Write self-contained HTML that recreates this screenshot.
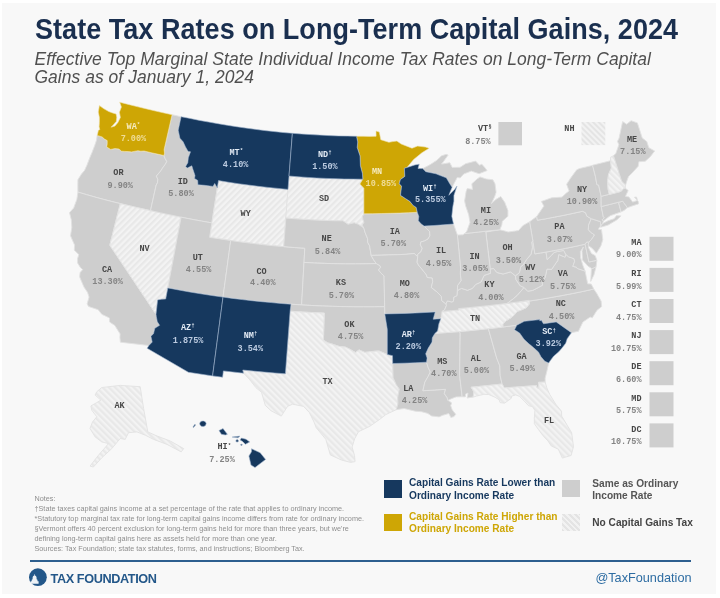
<!DOCTYPE html>
<html><head><meta charset="utf-8"><title>State Tax Rates on Long-Term Capital Gains, 2024</title>
<style>
html,body{margin:0;padding:0;background:#fff;}
body{width:720px;height:598px;position:relative;overflow:hidden;font-family:"Liberation Sans",sans-serif;}
#panel{position:absolute;left:2px;top:3px;width:714px;height:591px;background:#f8f8f8;}
h1{position:absolute;left:35px;top:14.6px;margin:0;font-size:27px;line-height:30px;font-weight:bold;color:#1a2f4f;white-space:nowrap;letter-spacing:0.04px;transform:scaleY(1.07);transform-origin:0 24.4px;}
#sub{position:absolute;left:34.5px;top:50.4px;margin:0;font-size:17.45px;line-height:18px;font-style:italic;color:#505050;white-space:nowrap;letter-spacing:0.05px;}
svg{position:absolute;left:0;top:0;}
.ab{font-family:"Liberation Mono",monospace;font-weight:bold;font-size:8.5px;text-anchor:middle;}
.val{font-family:"Liberation Mono",monospace;font-weight:bold;font-size:8.5px;text-anchor:middle;}
.r{text-anchor:end;}
.mk{font-family:"Liberation Mono",monospace;font-weight:bold;font-size:5px;text-anchor:start;}
#notes{position:absolute;left:34.5px;top:493.5px;font-size:7.25px;line-height:10px;color:#8e8e8e;white-space:nowrap;}
.lg{position:absolute;font-size:10.15px;line-height:12.5px;font-weight:bold;white-space:nowrap;}
.sq{position:absolute;width:18px;height:17.6px;}
#rule{position:absolute;left:29.5px;top:559.8px;width:661.5px;height:1.8px;background:#2d5f8f;}
#tf{position:absolute;left:50.5px;top:571.5px;font-size:12.7px;line-height:14px;font-weight:bold;color:#235789;letter-spacing:-0.4px;white-space:nowrap;}
#tw{position:absolute;right:28.5px;top:571px;font-size:12.7px;line-height:14px;color:#2d6ca2;white-space:nowrap;}
#wrap{position:absolute;left:0;top:0;width:720px;height:598px;filter:blur(0.7px);}
</style></head><body>
<div id="wrap">
<div id="panel"></div>
<h1>State Tax Rates on Long-Term Capital Gains, 2024</h1>
<p id="sub">Effective Top Marginal State Individual Income Tax Rates on Long-Term Capital<br>Gains as of January 1, 2024</p>
<svg width="720" height="598" viewBox="0 0 720 598">
<defs>
<pattern id="hatch" width="4.4" height="4.4" patternUnits="userSpaceOnUse" patternTransform="rotate(-45)">
<rect width="4.4" height="4.4" fill="#f3f3f3"/><rect width="2.2" height="4.4" fill="#e8e8e8"/>
</pattern>
<pattern id="hatchf" width="4.4" height="4.4" patternUnits="userSpaceOnUse" patternTransform="rotate(45)">
<rect width="4.4" height="4.4" fill="#f3f3f3"/><rect width="2.2" height="4.4" fill="#e8e8e8"/>
</pattern>
<pattern id="hatch2" width="4" height="4" patternUnits="userSpaceOnUse" patternTransform="rotate(-45)">
<rect width="4" height="4" fill="#f2f2f2"/><rect width="2" height="4" fill="#e4e4e4"/>
</pattern>
</defs>
<g stroke="#e2e2e2" stroke-width="0.9" stroke-linejoin="round">
<path d="M97.2 135.4L102.1 136.9L104.5 139.1L107.2 140.6L107.2 143.9L106.7 147.0L110.7 149.4L115.0 148.6L119.0 149.0L121.5 151.2L124.5 151.4L128.5 151.6L131.5 151.9L137.9 150.7L140.8 151.2L144.1 151.0L151.2 152.7L158.4 154.3L163.9 155.5L163.9 155.5L165.0 158.3L166.8 161.6L165.2 164.4L162.5 168.1L161.0 170.6L156.4 176.1L157.8 179.3L157.5 182.8L156.2 185.0L150.5 210.6L150.5 210.6L141.3 208.6L132.2 206.5L123.1 204.3L114.0 202.1L104.9 199.7L95.9 197.3L86.9 194.7L77.9 192.1L77.9 192.1L77.8 185.4L77.9 179.7L81.5 174.0L84.5 170.5L86.9 165.3L89.9 157.5L92.1 152.3L94.6 145.8L96.4 140.5L97.2 135.4Z" fill="#cecece"/>
<path d="M77.9 192.1L76.9 199.2L73.7 207.9L69.5 212.7L71.3 219.7L71.8 227.3L70.5 235.8L74.6 245.1L74.3 250.2L78.8 254.5L77.6 258.6L77.6 263.0L80.4 267.5L82.7 269.6L80.1 272.6L79.6 276.8L83.9 286.9L87.5 292.3L89.1 297.1L87.1 303.9L88.6 306.5L98.2 309.7L101.8 314.3L109.4 317.9L109.6 322.0L114.8 325.4L120.1 333.9L119.9 337.5L120.4 342.2L148.9 345.5L148.9 345.5L152.2 342.1L150.9 336.2L153.5 333.8L154.8 328.3L159.6 325.3L157.3 321.7L156.3 316.5L156.0 314.3L109.8 245.2L120.3 203.6L120.3 203.6L111.8 201.5L103.2 199.3L94.8 197.0L86.3 194.6L77.9 192.1Z" fill="#cecece"/>
<path d="M120.3 203.6L120.3 203.6L130.4 206.0L140.5 208.4L150.6 210.7L160.8 212.9L170.9 215.1L181.1 217.2L167.8 287.9L165.7 299.0L161.6 299.2L157.6 299.9L156.8 307.3L156.0 314.3L109.8 245.2Z" fill="url(#hatchf)"/>
<path d="M172.1 114.7L181.1 116.7L181.1 116.7L178.2 130.2L179.9 138.2L183.1 141.8L185.5 146.9L188.1 151.4L190.5 151.8L188.3 157.8L187.8 162.7L185.6 166.4L187.3 168.0L191.8 165.8L192.7 168.7L195.0 175.6L194.5 178.4L197.7 180.4L197.9 184.8L204.5 185.3L213.0 186.4L214.7 183.5L217.3 187.9L211.9 222.9L211.9 222.9L201.6 221.1L191.3 219.2L181.1 217.2L170.9 215.1L160.7 212.9L150.5 210.6L150.5 210.6L156.2 185.0L157.5 182.8L157.8 179.3L156.4 176.1L161.0 170.6L162.5 168.1L165.2 164.4L166.8 161.6L165.0 158.3L163.9 155.5L163.9 155.5L164.5 153.2L164.1 149.6L172.1 114.7Z" fill="#cecece"/>
<path d="M218.5 180.6L228.4 182.2L238.2 183.7L248.2 185.0L258.1 186.3L268.0 187.4L278.0 188.4L288.0 189.4L283.7 246.6L273.1 245.7L262.5 244.6L251.9 243.3L241.2 242.0L230.7 240.5L220.1 238.9L209.6 237.3Z" fill="url(#hatchf)"/>
<path d="M181.1 217.2L191.3 219.2L201.6 221.1L211.9 222.9L209.6 237.3L209.6 237.3L220.1 238.9L230.7 240.5L223.0 297.1L211.9 295.5L200.8 293.8L189.8 292.0L178.8 290.0L167.8 287.9Z" fill="#cecece"/>
<path d="M230.7 240.5L241.2 242.0L251.9 243.3L262.5 244.6L273.1 245.7L283.7 246.6L294.2 247.5L304.8 248.2L301.6 304.9L290.4 304.2L279.2 303.3L268.0 302.3L256.7 301.2L245.4 300.0L234.2 298.6L223.0 297.1Z" fill="#cecece"/>
<path d="M289.0 176.0L298.2 176.8L307.4 177.4L316.7 178.0L325.9 178.4L335.1 178.7L344.3 179.0L353.5 179.1L362.8 179.2L362.8 179.2L359.9 184.0L363.9 188.2L363.9 213.8L363.9 213.8L362.4 216.6L362.9 219.5L363.9 222.3L362.1 225.2L363.9 228.1L363.9 228.1L361.4 226.3L358.3 224.3L354.2 222.8L348.0 224.2L342.9 220.8L342.9 220.8L333.4 220.7L323.9 220.4L314.4 220.0L304.9 219.4L295.3 218.8L285.8 218.0Z" fill="url(#hatchf)"/>
<path d="M285.8 218.0L295.3 218.8L304.9 219.4L314.4 220.0L323.9 220.4L333.4 220.7L342.9 220.8L342.9 220.8L348.0 224.2L354.2 222.8L358.3 224.3L361.4 226.3L363.9 228.1L363.9 228.1L365.0 232.3L367.6 238.7L367.7 242.3L369.6 245.8L370.4 250.8L371.2 255.4L371.2 255.4L373.6 259.8L376.3 263.6L376.3 263.6L366.0 263.8L355.6 263.9L345.3 263.9L335.0 263.7L324.7 263.4L314.4 263.0L304.0 262.4L304.8 248.2L304.8 248.2L294.2 247.5L283.7 246.6Z" fill="#cecece"/>
<path d="M304.0 262.4L314.4 263.0L324.7 263.4L335.0 263.7L345.3 263.9L355.6 263.9L366.0 263.8L376.3 263.6L376.3 263.6L379.6 265.4L380.7 267.1L378.6 270.0L380.8 272.9L384.2 276.1L384.7 306.7L384.7 306.7L374.3 306.8L363.9 306.8L353.6 306.8L343.2 306.6L332.8 306.4L322.4 306.0L312.0 305.5L301.6 304.9Z" fill="#cecece"/>
<path d="M291.0 304.2L301.4 304.9L311.9 305.5L322.3 306.0L332.7 306.3L343.1 306.6L353.5 306.8L363.9 306.8L374.3 306.8L384.7 306.7L384.8 313.9L387.3 329.5L387.3 354.5L387.3 354.5L378.8 350.9L371.8 351.5L364.9 352.4L359.1 349.9L355.5 352.6L349.8 349.2L345.2 347.0L339.4 346.5L332.5 344.2L327.9 342.9L323.4 340.2L324.3 313.1L324.3 313.1L315.8 312.7L307.2 312.3L298.7 311.8L290.1 311.2Z" fill="#cecece"/>
<path d="M290.1 311.2L290.1 311.2L298.7 311.8L307.2 312.3L315.8 312.7L324.3 313.1L323.4 340.2L327.9 342.9L332.5 344.2L339.4 346.5L345.2 347.0L349.8 349.2L355.5 352.6L359.1 349.9L364.9 352.4L371.8 351.5L378.8 350.9L387.3 354.5L392.5 355.7L393.1 377.6L396.1 384.5L399.3 389.0L397.7 397.1L397.9 404.1L396.2 409.7L385.8 414.6L379.7 419.4L369.8 426.3L358.5 431.7L354.7 438.7L352.1 447.0L354.5 455.5L355.1 461.6L350.6 462.4L341.6 460.1L330.3 454.9L325.8 439.3L316.2 427.7L314.0 422.0L309.4 412.6L303.6 406.4L292.6 404.2L287.5 406.4L281.3 416.1L275.9 413.3L271.1 410.8L265.3 405.4L261.5 392.3L255.9 387.6L249.3 379.2L243.5 373.2L242.8 370.0L242.8 370.0L253.4 371.1L264.1 372.1L274.8 373.0L285.4 373.8Z" fill="url(#hatch)"/>
<path d="M363.9 213.8L372.8 213.7L381.7 213.5L390.6 213.3L399.5 213.1L408.4 212.7L417.3 212.3L417.3 212.3L418.8 216.5L418.3 220.7L421.3 224.1L424.1 226.1L424.1 226.1L426.8 228.8L429.6 231.5L429.9 235.7L428.0 239.0L424.4 241.0L420.8 241.9L420.4 244.8L422.2 248.3L420.8 251.9L417.8 254.2L417.7 256.7L417.7 256.7L414.2 253.5L406.0 254.3L397.3 254.7L388.6 254.9L379.9 255.2L371.2 255.4L371.2 255.4L370.4 250.8L369.6 245.8L367.7 242.3L367.6 238.7L365.0 232.3L363.9 228.1L363.9 228.1L362.1 225.2L363.9 222.3L362.9 219.5L362.4 216.6L363.9 213.8Z" fill="#cecece"/>
<path d="M371.2 255.4L379.9 255.2L388.6 254.9L397.3 254.7L406.0 254.3L414.2 253.5L417.7 256.7L417.7 256.7L417.1 262.2L418.4 265.0L422.4 269.8L426.3 274.7L427.3 277.5L432.2 277.9L432.7 281.6L431.3 287.5L436.5 291.5L441.3 296.3L441.7 300.6L445.9 303.9L445.9 303.9L446.5 305.3L444.6 309.8L442.2 311.4L442.2 311.4L441.7 315.8L440.8 318.7L440.8 318.7L433.2 319.2L435.2 311.9L435.2 311.9L425.1 312.5L415.1 313.0L405.0 313.4L394.9 313.7L384.8 313.9L384.0 276.1L384.2 276.1L380.8 272.9L378.6 270.0L380.7 267.1L379.6 265.4L376.3 263.6L376.3 263.6L373.6 259.8L371.2 255.4Z" fill="#cecece"/>
<path d="M392.7 363.5L404.0 363.2L415.3 362.8L426.5 362.2L426.5 362.2L428.3 367.8L430.3 372.0L428.2 376.3L424.9 382.1L423.9 386.4L422.9 390.7L430.2 390.3L437.8 389.8L445.5 389.3L444.3 393.6L447.1 397.6L447.9 400.4L449.1 401.0L451.7 402.9L450.7 405.7L452.2 409.8L455.7 414.3L454.0 416.6L450.9 417.5L448.8 413.5L442.7 415.3L439.1 416.9L431.6 416.0L427.8 413.4L421.5 411.7L415.3 411.2L404.1 408.5L396.2 409.7L397.9 404.1L397.7 397.1L399.3 389.0L396.1 384.5L393.1 377.6L393.1 377.6Z" fill="#cecece"/>
<path d="M434.9 333.4L443.0 332.8L451.0 332.2L459.0 331.6L459.0 331.6L460.2 332.9L459.6 375.6L462.2 396.8L456.1 396.9L451.4 398.7L447.9 400.4L447.1 397.6L444.3 393.6L445.5 389.3L437.8 389.8L430.2 390.3L422.9 390.7L423.9 386.4L424.9 382.1L428.2 376.3L430.3 372.0L428.3 367.8L426.5 362.2L426.5 362.2L427.1 358.0L425.7 353.8L428.3 348.0L432.0 342.1L432.3 337.8L434.9 333.4Z" fill="#cecece"/>
<path d="M459.0 331.6L468.8 330.7L478.6 329.7L488.4 328.7L488.4 328.7L496.7 358.1L499.8 365.9L500.2 375.7L502.1 384.0L490.1 385.3L480.6 386.3L471.1 387.2L473.9 391.8L473.2 397.1L470.2 397.4L467.2 398.1L468.0 393.1L465.6 394.0L465.3 396.9L462.2 396.8L459.6 375.6L460.2 332.9L459.0 331.6Z" fill="#cecece"/>
<path d="M488.4 328.7L497.8 327.6L507.3 326.4L516.8 325.2L516.8 325.2L514.5 329.8L519.6 333.0L524.0 339.2L528.9 343.8L532.3 346.6L538.4 351.9L541.0 356.8L544.8 361.2L548.7 363.0L547.0 370.8L545.1 378.2L545.2 382.1L542.1 382.2L538.5 382.3L538.9 384.8L538.8 388.1L536.9 387.9L536.5 385.5L504.3 387.9L502.1 384.0L502.1 384.0L500.2 375.7L499.8 365.9L496.7 358.1L488.4 328.7Z" fill="#cecece"/>
<path d="M473.2 397.1L473.9 391.8L471.1 387.2L480.6 386.3L490.1 385.3L502.1 384.0L504.3 387.9L536.5 385.5L536.9 387.9L538.8 388.1L538.9 384.8L538.5 382.3L542.1 382.2L545.2 382.1L546.8 387.8L549.7 394.3L555.9 404.4L561.5 411.2L561.7 416.1L567.1 425.1L571.7 432.8L573.5 446.7L571.1 455.5L564.8 457.3L562.4 458.1L558.3 449.2L551.3 446.0L547.9 440.9L543.2 435.9L538.4 429.5L534.4 423.8L534.3 418.9L534.9 410.4L532.4 406.6L528.5 405.7L524.0 400.8L519.7 396.5L515.8 394.9L511.6 396.1L511.3 398.3L504.5 403.2L500.1 402.6L499.1 399.7L495.2 397.3L488.7 394.5L483.9 394.3L476.8 396.0Z" fill="url(#hatch)"/>
<path d="M593.8 289.0L583.1 291.4L572.4 293.6L561.7 295.6L551.0 297.5L540.2 299.4L529.5 301.0L529.4 300.5L529.3 303.9L526.3 307.7L520.4 310.3L517.1 311.5L513.7 315.5L511.1 317.7L505.8 320.9L502.8 324.1L502.9 327.1L502.9 327.0L509.8 326.1L516.8 325.2L516.8 325.2L524.3 321.3L539.7 319.6L539.9 321.0L541.2 320.1L543.5 323.8L556.2 321.9L571.4 332.7L577.7 331.4L578.3 331.6L582.9 322.0L590.2 317.1L592.3 317.8L597.0 310.3L601.7 306.6L601.2 301.3L596.8 293.5Z" fill="#cecece"/>
<path d="M442.2 311.4L451.5 310.7L458.8 310.1L458.6 308.6L468.4 307.7L478.1 306.7L487.8 305.7L497.5 304.6L507.2 303.4L529.3 300.3L518.3 301.9L507.2 303.4L529.4 300.5L529.3 303.9L526.3 307.7L520.4 310.3L517.1 311.5L513.7 315.5L511.1 317.7L505.8 320.9L502.8 324.1L502.9 327.1L502.9 327.0L491.6 328.3L480.4 329.5L469.1 330.7L457.7 331.7L446.4 332.6L434.9 333.4L434.9 333.4L437.6 331.0L438.9 323.8L440.8 318.7L440.8 318.7L441.7 315.8L442.2 311.4Z" fill="url(#hatch)"/>
<path d="M507.2 303.4L497.5 304.6L487.8 305.7L478.1 306.7L468.4 307.7L458.6 308.6L458.8 310.1L451.5 310.7L442.2 311.4L442.2 311.4L444.6 309.8L446.5 305.3L445.9 303.9L445.9 303.9L447.3 300.9L451.9 302.0L453.5 301.1L453.7 297.2L456.9 295.7L457.3 291.3L457.3 291.3L458.5 289.7L461.7 288.4L467.5 290.3L472.3 288.4L475.7 284.4L481.0 282.0L484.1 275.4L490.4 273.3L490.2 268.9L490.2 268.9L493.6 268.5L496.9 272.5L503.1 274.0L510.5 271.9L515.4 275.8L515.4 275.8L516.0 279.7L520.1 285.7L524.1 287.5L524.1 287.5L517.1 295.6L513.1 299.0L507.2 303.4Z" fill="#cecece"/>
<path d="M507.2 303.4L513.1 299.0L517.1 295.6L524.1 287.5L524.1 287.5L527.7 291.2L532.7 290.4L536.8 288.3L542.5 285.2L542.1 282.7L545.1 277.5L547.0 269.1L551.7 269.3L554.9 264.5L557.7 260.6L558.8 254.5L565.1 257.2L565.7 254.3L565.7 254.3L568.7 256.9L571.6 257.8L574.1 258.8L574.6 261.6L572.8 266.4L576.3 267.1L577.1 268.4L585.1 271.1L586.1 276.1L587.7 283.8L591.2 284.0L593.8 289.0L583.1 291.4L572.4 293.6L561.7 295.6L551.0 297.5L540.2 299.4L529.5 301.0L529.3 300.3L518.3 301.9L507.2 303.4ZM590.7 281.4L591.4 269.0L596.1 266.7L593.9 275.0Z" fill="#cecece"/>
<path d="M524.1 287.5L520.1 285.7L516.0 279.7L515.4 275.8L515.4 275.8L519.4 272.7L520.7 266.6L523.2 264.8L526.3 259.9L531.1 254.1L532.4 247.3L531.6 242.3L532.8 240.8L532.8 240.8L534.9 253.9L540.4 253.0L546.0 252.1L546.0 252.1L547.2 259.5L551.7 255.1L554.0 252.4L557.7 251.4L563.8 250.5L565.7 254.3L565.7 254.3L565.1 257.2L558.8 254.5L557.7 260.6L554.9 264.5L551.7 269.3L547.0 269.1L545.1 277.5L542.1 282.7L542.5 285.2L536.8 288.3L532.7 290.4L527.7 291.2L524.1 287.5Z" fill="#cecece"/>
<path d="M546.0 252.1L555.7 250.3L565.5 248.4L575.3 246.4L585.1 244.2L588.9 262.0L596.9 260.3L596.1 266.7L592.0 268.8L587.9 266.1L582.4 259.9L582.0 251.1L583.4 247.1L580.4 251.5L580.5 257.4L583.0 265.7L585.1 271.1L585.1 271.1L577.1 268.4L576.3 267.1L572.8 266.4L574.6 261.6L574.1 258.8L571.6 257.8L568.7 256.9L565.7 254.3L563.8 250.5L557.7 251.4L554.0 252.4L551.7 255.1L547.2 259.5L546.0 252.1Z" fill="#cecece"/>
<path d="M585.1 244.2L586.7 242.0L588.9 242.1L588.4 247.4L591.4 253.4L595.3 255.7L596.9 260.3L596.9 260.3L588.9 262.0L585.1 244.2Z" fill="#cecece"/>
<path d="M536.7 216.5L537.4 220.2L545.2 218.9L554.6 217.1L563.9 215.3L573.3 213.3L582.6 211.3L582.6 211.3L585.6 212.8L586.9 216.2L591.3 218.7L591.3 218.7L588.5 225.3L588.4 229.7L590.6 232.2L594.5 234.9L591.6 239.3L588.9 242.1L588.9 242.1L586.7 242.0L585.1 244.2L585.1 244.2L575.3 246.4L565.5 248.4L555.7 250.3L546.0 252.1L546.0 252.1L540.4 253.0L534.9 253.9L532.8 240.8L529.6 221.8Z" fill="#cecece"/>
<path d="M591.3 218.7L600.7 221.7L600.4 226.5L598.9 228.0L598.7 229.5L601.5 229.6L602.8 239.6L600.9 245.9L596.4 253.2L592.6 248.7L588.0 245.3L588.9 242.1L591.6 239.3L594.5 234.9L590.6 232.2L588.4 229.7L588.5 225.3L591.3 218.7Z" fill="#cecece"/>
<path d="M536.7 216.5L537.4 220.2L545.2 218.9L554.6 217.1L563.9 215.3L573.3 213.3L582.6 211.3L582.6 211.3L585.6 212.8L586.9 216.2L591.3 218.7L600.7 221.7L600.4 226.5L602.7 223.4L603.3 221.1L602.1 219.9L604.3 217.8L603.3 216.7L601.2 206.3L601.2 206.3L601.1 196.1L601.1 196.1L598.6 185.0L596.9 184.7L595.4 176.3L592.6 165.4L579.5 168.5L576.7 169.8L570.4 178.4L566.6 184.3L569.1 191.0L566.4 193.0L562.0 197.1L551.7 197.8L541.4 201.4L543.9 206.1L536.7 216.5ZM600.6 227.3L608.1 225.1L616.7 220.0L621.1 215.9L616.6 215.6L614.1 218.7L608.1 220.7L602.7 223.4L601.0 225.3Z" fill="#cecece"/>
<path d="M601.3 206.5L609.9 204.4L618.5 202.2L620.8 210.9L620.6 212.1L610.1 215.8L603.3 221.1L603.3 221.1L602.1 219.9L604.3 217.8L603.3 216.7L601.2 206.3Z" fill="#cecece"/>
<path d="M618.5 202.3L622.8 201.2L623.7 202.7L625.9 205.5L627.3 207.7L624.0 210.5L620.6 212.1L620.6 212.1L620.8 210.9L618.5 202.3Z" fill="#cecece"/>
<path d="M601.2 196.3L609.3 194.3L609.4 194.4L615.2 193.0L621.0 191.4L621.4 191.0L623.4 188.6L625.2 188.1L628.2 190.5L626.2 194.7L625.5 196.4L628.9 196.9L631.6 200.6L632.6 202.1L637.5 200.4L636.5 197.0L634.4 197.2L638.4 201.7L638.5 203.9L632.0 206.0L628.6 207.3L627.3 207.7L625.9 205.5L623.7 202.7L622.8 201.2L618.5 202.3L618.5 202.2L609.9 204.4L601.3 206.5L601.2 206.3L601.1 196.1Z" fill="#cecece"/>
<path d="M592.6 165.4L595.4 176.3L596.9 184.7L598.6 185.0L601.1 196.1L601.2 196.3L609.3 194.3L609.3 194.3L608.1 189.2L607.5 182.1L608.5 174.5L611.4 167.9L610.5 160.7L610.5 160.7L601.5 163.0L592.6 165.2Z" fill="#cecece"/>
<path d="M610.5 160.7L611.4 167.9L608.5 174.5L607.5 182.1L608.1 189.2L609.3 194.3L609.4 194.4L615.2 193.0L621.0 191.4L621.4 191.0L623.4 188.6L625.2 188.1L625.6 185.0L621.7 181.3L619.1 173.2L613.5 155.7L610.6 157.2Z" fill="url(#hatch)"/>
<path d="M625.6 185.0L621.7 181.3L619.1 173.2L613.5 155.7L615.8 153.6L618.9 144.7L617.5 141.4L619.1 138.1L622.6 121.6L626.6 124.2L631.1 120.7L637.4 122.9L642.2 137.9L646.8 141.6L648.8 147.7L654.7 151.0L650.1 156.9L645.2 161.3L638.9 161.7L638.2 166.3L631.8 173.3L628.5 176.5L626.7 181.4Z" fill="#cecece"/>
<path d="M485.8 232.0L499.8 229.8L504.8 231.0L508.1 232.0L515.4 231.0L518.5 230.5L523.0 225.5L529.6 221.8L529.6 221.8L532.8 240.8L532.8 240.8L531.6 242.3L532.4 247.3L531.1 254.1L526.3 259.9L523.2 264.8L520.7 266.6L519.4 272.7L515.4 275.8L515.4 275.8L510.5 271.9L503.1 274.0L496.9 272.5L493.6 268.5L490.2 268.9L490.2 268.9L485.8 232.0Z" fill="#cecece"/>
<path d="M457.4 235.0L462.9 234.8L464.7 233.5L471.7 232.8L478.7 232.0L485.6 231.2L485.8 232.0L490.2 268.9L490.2 268.9L490.4 273.3L484.1 275.4L481.0 282.0L475.7 284.4L472.3 288.4L467.5 290.3L461.7 288.4L458.5 289.7L457.3 291.3L457.3 291.3L457.6 285.4L461.0 280.7L460.3 273.5L460.6 268.4L457.4 235.0Z" fill="#cecece"/>
<path d="M424.1 226.1L433.9 225.5L443.7 224.8L453.5 224.0L456.4 232.3L457.4 235.0L457.4 235.0L460.6 268.4L460.3 273.5L461.0 280.7L457.6 285.4L457.3 291.3L457.3 291.3L456.9 295.7L453.7 297.2L453.5 301.1L451.9 302.0L447.3 300.9L445.9 303.9L445.9 303.9L441.7 300.6L441.3 296.3L436.5 291.5L431.3 287.5L432.7 281.6L432.2 277.9L427.3 277.5L426.3 274.7L422.4 269.8L418.4 265.0L417.1 262.2L417.7 256.7L417.7 256.7L417.8 254.2L420.8 251.9L422.2 248.3L420.4 244.8L420.8 241.9L424.4 241.0L428.0 239.0L429.9 235.7L429.6 231.5L426.8 228.8L424.1 226.1Z" fill="#cecece"/>
<path d="M464.7 233.5L471.7 232.8L478.7 232.0L485.6 231.2L499.8 229.8L501.8 225.0L502.3 221.3L507.9 216.3L507.9 210.5L504.8 202.4L500.8 196.5L496.1 199.3L491.5 203.5L494.7 196.6L496.1 192.2L495.0 183.8L492.9 179.8L486.3 179.0L480.0 176.9L477.2 178.9L473.6 182.2L471.8 183.8L472.5 189.4L467.3 188.5L466.1 191.5L464.6 200.9L465.6 205.7L468.7 214.7L470.0 222.4L466.8 231.3ZM422.7 168.6L425.8 171.7L436.0 173.8L439.1 175.1L446.3 177.8L449.8 183.8L452.1 187.2L457.2 177.5L460.2 177.9L463.7 174.0L471.3 171.1L479.1 173.7L487.1 170.6L484.7 167.4L481.8 164.2L479.5 165.2L475.6 161.1L465.6 163.7L460.1 167.3L452.2 167.4L449.8 162.7L441.6 164.1L443.8 161.1L448.1 155.1L446.1 154.3L441.4 155.9L436.9 160.2L430.4 164.5Z" fill="#cecece"/>
<path d="M101.8 387.5L120.2 385.4L140.2 386.7L143.6 408.4L147.8 431.9L157 436L170.3 441L183.7 448.6L181.2 451.9L167 444.4L153.6 439.4L145.3 435.2L136.9 431.9L128.5 432.7L125.2 439.4L120.2 438.5L111.8 448.6L101.8 457.8L93.4 467L90 466.1L98.4 455.3L108.5 443.6L101.8 441.9L95.1 436.9L90 428.5L92.6 421.8L96.8 416.8L91.7 410.1L90.9 405.9L96.8 402.6L100.9 400.1L95.1 395.1L96.8 391.7Z" fill="url(#hatch)"/>
<path d="M97.2 135.4L98.4 130.3L99.8 129.6L99.1 126.8L99.4 122.6L99.4 117.5L98.3 112.1L99.4 105.5L103.6 108.6L108.7 111.5L112.7 113.0L116.1 113.9L116.8 117.2L116.3 121.4L113.2 124.9L111.1 127.2L114.9 126.1L117.9 122.5L120.4 117.4L119.4 112.2L121.4 107.0L119.7 102.2L119.7 102.2L128.4 104.4L137.0 106.6L145.8 108.7L154.5 110.8L163.3 112.8L172.1 114.7L172.1 114.7L164.1 149.6L164.5 153.2L163.9 155.5L163.9 155.5L158.4 154.3L151.2 152.7L144.1 151.0L140.8 151.2L137.9 150.7L131.5 151.9L128.5 151.6L124.5 151.4L121.5 151.2L119.0 149.0L115.0 148.6L110.7 149.4L106.7 147.0L107.2 143.9L107.2 140.6L104.5 139.1L102.1 136.9L97.2 135.4Z" fill="#cea605" stroke="#f0e2b0" stroke-width="0.6"/>
<path d="M362.8 179.2L362.4 173.4L360.4 165.7L360.0 155.9L357.2 147.5L357.7 141.9L356.5 136.3L356.5 136.3L363.0 136.3L369.5 136.4L376.1 136.3L376.0 131.0L379.3 132.1L380.8 139.7L388.9 142.3L392.7 141.6L396.9 141.1L401.3 144.1L406.2 145.9L412.0 148.2L417.6 146.1L425.3 147.0L429.2 148.2L421.9 152.8L413.6 159.6L407.0 167.5L404.4 168.3L404.8 176.4L400.4 179.6L399.2 183.8L401.6 186.1L400.9 191.8L400.5 195.3L405.7 198.7L409.8 201.3L413.1 205.4L416.2 207.4L417.3 212.3L417.3 212.3L408.4 212.7L399.5 213.1L390.6 213.3L381.7 213.5L372.8 213.7L363.9 213.8L363.9 213.8L363.9 188.2L359.9 184.0L362.8 179.2Z" fill="#cea605" stroke="#f0e2b0" stroke-width="0.6"/>
<path d="M181.1 116.7L190.3 118.5L199.6 120.4L208.8 122.1L218.1 123.7L227.3 125.3L236.5 126.7L245.8 128.1L255.0 129.3L264.3 130.5L273.7 131.5L283.0 132.5L292.4 133.3L288.0 189.4L288.0 189.4L278.0 188.4L268.0 187.4L258.1 186.3L248.2 185.0L238.2 183.7L228.4 182.2L218.5 180.6L217.3 187.9L214.7 183.5L213.0 186.4L204.5 185.3L197.9 184.8L197.7 180.4L194.5 178.4L195.0 175.6L192.7 168.7L191.8 165.8L187.3 168.0L185.6 166.4L187.8 162.7L188.3 157.8L190.5 151.8L188.1 151.4L185.5 146.9L183.1 141.8L179.9 138.2L178.2 130.2L181.1 116.7Z" fill="#16385e" stroke="#9fb3cd" stroke-width="0.6"/>
<path d="M167.8 287.9L178.8 290.0L189.8 292.0L200.8 293.8L211.9 295.5L223.0 297.1L212.6 375.9L188.4 372.3L147.1 348.3L148.9 345.5L152.2 342.1L150.9 336.2L153.5 333.8L154.8 328.3L159.6 325.3L157.3 321.7L156.3 316.5L156.0 314.3L156.0 314.3L156.8 307.3L157.6 299.9L161.6 299.2L165.7 299.0L167.8 287.9Z" fill="#16385e" stroke="#9fb3cd" stroke-width="0.6"/>
<path d="M223.0 297.1L232.6 298.4L242.4 299.6L252.1 300.7L261.9 301.7L271.6 302.6L281.3 303.5L291.0 304.2L290.1 311.2L285.4 373.8L285.4 373.8L274.8 373.0L264.1 372.1L253.4 371.1L242.8 370.0L243.5 373.2L223.4 370.9L222.6 377.2L212.6 375.9Z" fill="#16385e" stroke="#9fb3cd" stroke-width="0.6"/>
<path d="M292.4 133.3L301.5 134.0L310.7 134.6L319.8 135.1L329.0 135.6L338.2 135.9L347.3 136.1L356.5 136.3L356.5 136.3L357.7 141.9L357.2 147.5L360.0 155.9L360.4 165.7L362.4 173.4L362.8 179.2L362.8 179.2L353.5 179.1L344.3 179.0L335.1 178.7L325.9 178.4L316.7 178.0L307.4 177.4L298.2 176.8L289.0 176.0Z" fill="#16385e" stroke="#9fb3cd" stroke-width="0.6"/>
<path d="M384.8 313.9L394.9 313.7L405.0 313.4L415.1 313.0L425.1 312.5L435.2 311.9L433.2 319.2L433.2 319.2L440.8 318.7L440.8 318.7L438.9 323.8L437.6 331.0L434.9 333.4L434.9 333.4L432.3 337.8L432.0 342.1L428.3 348.0L425.7 353.8L427.1 358.0L426.5 362.2L426.5 362.2L415.3 362.8L404.0 363.2L392.7 363.5L392.5 355.7L387.3 354.5L387.3 329.5L384.8 313.9Z" fill="#16385e" stroke="#9fb3cd" stroke-width="0.6"/>
<path d="M516.8 325.2L524.3 321.3L539.7 319.6L539.9 321.0L541.2 320.1L543.5 323.8L556.2 321.9L571.4 332.7L567.2 338.7L565.7 343.3L561.8 348.3L558.8 351.7L553.6 356.2L550.6 360.2L548.7 363.0L544.8 361.2L541.0 356.8L538.4 351.9L532.3 346.6L528.9 343.8L524.0 339.2L519.6 333.0L514.5 329.8L516.8 325.2Z" fill="#16385e" stroke="#9fb3cd" stroke-width="0.6"/>
<path d="M407.0 167.5L404.4 168.3L404.8 176.4L400.4 179.6L399.2 183.8L401.6 186.1L400.9 191.8L400.5 195.3L405.7 198.7L409.8 201.3L413.1 205.4L416.2 207.4L417.3 212.3L417.3 212.3L418.8 216.5L418.3 220.7L421.3 224.1L424.1 226.1L424.1 226.1L433.9 225.5L443.7 224.8L453.5 224.0L451.8 216.3L452.9 206.3L453.9 201.2L453.9 195.5L457.0 186.0L454.4 189.8L448.8 195.3L452.1 187.2L449.8 183.8L446.3 177.8L439.1 175.1L436.0 173.8L425.8 171.7L422.7 168.6L418.0 168.5L419.2 164.2L414.9 164.9Z" fill="#16385e" stroke="#9fb3cd" stroke-width="0.6"/>
<path d="M251.5 448.7L260.2 452.8L265.6 459.4L255.0 467.6L251.0 465.1L248.9 456.0L251.5 451.7ZM240.1 439.9L241.4 438.1L246.0 439.2L249.7 441.9L245.4 444.3L242.7 441.6ZM232.1 437.1L240.0 436.1L238.1 437.8ZM238.5 440.9L238.1 440.0L237.1 439.6L236.2 440.0L235.8 440.9L236.2 441.8L237.1 442.1L238.1 441.8ZM242.4 444.8L241.9 444.2L241.0 444.2L240.5 444.8L241.0 445.4L241.9 445.4ZM219.0 430.5L223.0 428.6L227.4 434.3L225.4 435.0L221.4 434.3ZM206.2 423.7L205.6 422.1L203.9 421.1L201.9 421.1L200.2 422.0L199.6 423.7L200.2 425.3L201.8 426.4L203.9 426.4L205.5 425.4ZM192.9 427.1L194.9 424.3L195.6 425.0L193.6 427.4Z" fill="#16385e" stroke="#9fb3cd" stroke-width="0.6"/>
<rect x="649.5" y="236.8" width="24" height="24" fill="#cecece" stroke="none"/>
<rect x="649.5" y="267.9" width="24" height="24" fill="#cecece" stroke="none"/>
<rect x="649.5" y="299.0" width="24" height="24" fill="#cecece" stroke="none"/>
<rect x="649.5" y="330.1" width="24" height="24" fill="#cecece" stroke="none"/>
<rect x="649.5" y="361.2" width="24" height="24" fill="#cecece" stroke="none"/>
<rect x="649.5" y="392.3" width="24" height="24" fill="#cecece" stroke="none"/>
<rect x="649.5" y="423.4" width="24" height="24" fill="#cecece" stroke="none"/>
<rect x="498.4" y="122" width="23.6" height="23.3" fill="#cecece" stroke="none"/>
<rect x="581.5" y="122" width="23.8" height="23.1" fill="url(#hatch2)" stroke="none"/>
</g>
<g>
<text x="131.7" y="128.7" fill="#f6ebc0" class="ab">WA</text>
<text x="137.1" y="126.1" fill="#f6ebc0" class="mk">*</text>
<text x="133.4" y="140.5" fill="#efdc96" class="val">7.00%</text>
<text x="118.4" y="175.1" fill="#474747" class="ab">OR</text>
<text x="120.2" y="188.1" fill="#848484" class="val">9.90%</text>
<text x="107.1" y="271.9" fill="#474747" class="ab">CA</text>
<text x="107.6" y="284.4" fill="#848484" class="val">13.30%</text>
<text x="144.5" y="251.4" fill="#474747" class="ab">NV</text>
<text x="182.8" y="183.6" fill="#474747" class="ab">ID</text>
<text x="181.0" y="195.7" fill="#848484" class="val">5.80%</text>
<text x="234.6" y="155.0" fill="#e3ebf5" class="ab">MT</text>
<text x="240.0" y="152.4" fill="#e3ebf5" class="mk">*</text>
<text x="235.6" y="167.3" fill="#bccbe0" class="val">4.10%</text>
<text x="245.7" y="215.7" fill="#474747" class="ab">WY</text>
<text x="197.8" y="259.5" fill="#474747" class="ab">UT</text>
<text x="198.6" y="271.8" fill="#848484" class="val">4.55%</text>
<text x="261.6" y="273.5" fill="#474747" class="ab">CO</text>
<text x="262.8" y="285.0" fill="#848484" class="val">4.40%</text>
<text x="186.1" y="329.9" fill="#e3ebf5" class="ab">AZ</text>
<text x="191.5" y="327.3" fill="#e3ebf5" class="mk">†</text>
<text x="188.1" y="343.2" fill="#bccbe0" class="val">1.875%</text>
<text x="248.8" y="337.6" fill="#e3ebf5" class="ab">NM</text>
<text x="254.2" y="335.0" fill="#e3ebf5" class="mk">†</text>
<text x="250.3" y="350.7" fill="#bccbe0" class="val">3.54%</text>
<text x="323.1" y="156.8" fill="#e3ebf5" class="ab">ND</text>
<text x="328.5" y="154.2" fill="#e3ebf5" class="mk">†</text>
<text x="324.9" y="169.3" fill="#bccbe0" class="val">1.50%</text>
<text x="324.1" y="201.1" fill="#474747" class="ab">SD</text>
<text x="326.7" y="240.6" fill="#474747" class="ab">NE</text>
<text x="327.6" y="253.5" fill="#848484" class="val">5.84%</text>
<text x="340.9" y="285.1" fill="#474747" class="ab">KS</text>
<text x="341.4" y="297.6" fill="#848484" class="val">5.70%</text>
<text x="349.4" y="326.9" fill="#474747" class="ab">OK</text>
<text x="350.6" y="339.3" fill="#848484" class="val">4.75%</text>
<text x="327.6" y="384.3" fill="#474747" class="ab">TX</text>
<text x="377.1" y="173.8" fill="#f6ebc0" class="ab">MN</text>
<text x="380.9" y="186.3" fill="#efdc96" class="val">10.85%</text>
<text x="394.8" y="233.9" fill="#474747" class="ab">IA</text>
<text x="393.3" y="246.0" fill="#848484" class="val">5.70%</text>
<text x="404.8" y="286.1" fill="#474747" class="ab">MO</text>
<text x="406.5" y="298.1" fill="#848484" class="val">4.80%</text>
<text x="406.8" y="336.9" fill="#e3ebf5" class="ab">AR</text>
<text x="412.2" y="334.3" fill="#e3ebf5" class="mk">†</text>
<text x="408.3" y="349.1" fill="#bccbe0" class="val">2.20%</text>
<text x="408.3" y="390.5" fill="#474747" class="ab">LA</text>
<text x="414.6" y="402.6" fill="#848484" class="val">4.25%</text>
<text x="428.0" y="190.6" fill="#e3ebf5" class="ab">WI</text>
<text x="433.4" y="188.0" fill="#e3ebf5" class="mk">†</text>
<text x="430.3" y="202.4" fill="#bccbe0" class="val">5.355%</text>
<text x="441.1" y="253.2" fill="#474747" class="ab">IL</text>
<text x="438.6" y="266.0" fill="#848484" class="val">4.95%</text>
<text x="485.9" y="213.2" fill="#474747" class="ab">MI</text>
<text x="485.9" y="224.9" fill="#848484" class="val">4.25%</text>
<text x="474.6" y="258.9" fill="#474747" class="ab">IN</text>
<text x="475.1" y="270.5" fill="#848484" class="val">3.05%</text>
<text x="507.6" y="249.6" fill="#474747" class="ab">OH</text>
<text x="508.4" y="263.0" fill="#848484" class="val">3.50%</text>
<text x="489.4" y="287.3" fill="#474747" class="ab">KY</text>
<text x="490.9" y="300.1" fill="#848484" class="val">4.00%</text>
<text x="475.1" y="321.1" fill="#474747" class="ab">TN</text>
<text x="442.3" y="364.2" fill="#474747" class="ab">MS</text>
<text x="443.8" y="376.3" fill="#848484" class="val">4.70%</text>
<text x="475.9" y="361.2" fill="#474747" class="ab">AL</text>
<text x="476.4" y="373.3" fill="#848484" class="val">5.00%</text>
<text x="521.5" y="359.1" fill="#474747" class="ab">GA</text>
<text x="522.2" y="370.7" fill="#848484" class="val">5.49%</text>
<text x="549.0" y="422.6" fill="#474747" class="ab">FL</text>
<text x="547.3" y="334.4" fill="#e3ebf5" class="ab">SC</text>
<text x="552.7" y="331.8" fill="#e3ebf5" class="mk">†</text>
<text x="548.3" y="346.2" fill="#bccbe0" class="val">3.92%</text>
<text x="560.8" y="306.1" fill="#474747" class="ab">NC</text>
<text x="561.6" y="318.9" fill="#848484" class="val">4.50%</text>
<text x="562.8" y="276.0" fill="#474747" class="ab">VA</text>
<text x="562.8" y="288.5" fill="#848484" class="val">5.75%</text>
<text x="530.3" y="270.0" fill="#474747" class="ab">WV</text>
<text x="531.5" y="281.8" fill="#848484" class="val">5.12%</text>
<text x="559.4" y="229.0" fill="#474747" class="ab">PA</text>
<text x="559.6" y="241.8" fill="#848484" class="val">3.07%</text>
<text x="582.0" y="191.9" fill="#474747" class="ab">NY</text>
<text x="582.0" y="204.4" fill="#848484" class="val">10.90%</text>
<text x="632.1" y="141.7" fill="#474747" class="ab">ME</text>
<text x="632.8" y="154.3" fill="#848484" class="val">7.15%</text>
<text x="119.5" y="407.9" fill="#474747" class="ab">AK</text>
<text x="222.6" y="449.4" fill="#474747" class="ab">HI</text>
<text x="228.0" y="446.8" fill="#474747" class="mk">*</text>
<text x="222.0" y="462.2" fill="#848484" class="val">7.25%</text>
<text x="483.1" y="130.9" fill="#474747" class="ab">VT</text>
<text x="488.5" y="128.3" fill="#474747" class="mk">§</text>
<text x="477.9" y="143.5" fill="#848484" class="val">8.75%</text>
<text x="569.4" y="130.5" fill="#474747" class="ab">NH</text>
<text x="641.5" y="245.0" fill="#474747" class="ab r">MA</text>
<text x="641.5" y="257.4" fill="#848484" class="val r">9.00%</text>
<text x="641.5" y="276.1" fill="#474747" class="ab r">RI</text>
<text x="641.5" y="288.5" fill="#848484" class="val r">5.99%</text>
<text x="641.5" y="307.2" fill="#474747" class="ab r">CT</text>
<text x="641.5" y="319.6" fill="#848484" class="val r">4.75%</text>
<text x="641.5" y="338.3" fill="#474747" class="ab r">NJ</text>
<text x="641.5" y="350.7" fill="#848484" class="val r">10.75%</text>
<text x="641.5" y="369.4" fill="#474747" class="ab r">DE</text>
<text x="641.5" y="381.8" fill="#848484" class="val r">6.60%</text>
<text x="641.5" y="400.5" fill="#474747" class="ab r">MD</text>
<text x="641.5" y="412.9" fill="#848484" class="val r">5.75%</text>
<text x="641.5" y="431.6" fill="#474747" class="ab r">DC</text>
<text x="641.5" y="444.0" fill="#848484" class="val r">10.75%</text>
</g>
<g transform="translate(29,568.3)">
<circle cx="8.9" cy="8.9" r="8.9" fill="#235789"/>
<path transform="translate(-1.6,1.3)" d="M3.2 14.2V11.6H4.3V10.2L5.2 9.6V8.2C5.2 6.8 6.0 6.0 6.9 5.8V4.6H7.5V5.8C8.4 6.0 9.2 6.8 9.2 8.2V9.6L10.1 10.2V11.6H11.2V14.2Z" fill="#fff" opacity="0.92"/>
</g>
</svg>
<div id="notes">Notes:<br>†State taxes capital gains income at a set percentage of the rate that applies to ordinary income.<br>*Statutory top marginal tax rate for long-term capital gains income differs from rate for ordinary income.<br>§Vermont offers 40 percent exclusion for long-term gains held for more than three years, but we're<br>defining long-term capital gains here as assets held for more than one year.<br>Sources: Tax Foundation; state tax statutes, forms, and instructions; Bloomberg Tax.</div>
<div class="sq" style="left:384.4px;top:480px;background:#16385e"></div>
<div class="lg" style="left:409px;top:477.2px;color:#16385e">Capital Gains Rate Lower than<br>Ordinary Income Rate</div>
<div class="sq" style="left:384.4px;top:513.8px;background:#cea605"></div>
<div class="lg" style="left:409px;top:510.7px;color:#cea605">Capital Gains Rate Higher than<br>Ordinary Income Rate</div>
<div class="sq" style="left:562px;top:479.7px;background:#cecece"></div>
<div class="lg" style="left:592.3px;top:477.6px;color:#555">Same as Ordinary<br>Income Rate</div>
<div class="sq" style="left:562px;top:513.8px;background:repeating-linear-gradient(45deg,#e4e4e4 0 2px,#f2f2f2 2px 4px)"></div>
<div class="lg" style="left:592.3px;top:516.5px;color:#444">No Capital Gains Tax</div>
<div id="rule"></div>
<div id="tf">TAX FOUNDATION</div>
<div id="tw">@TaxFoundation</div>
</div>
</body></html>
